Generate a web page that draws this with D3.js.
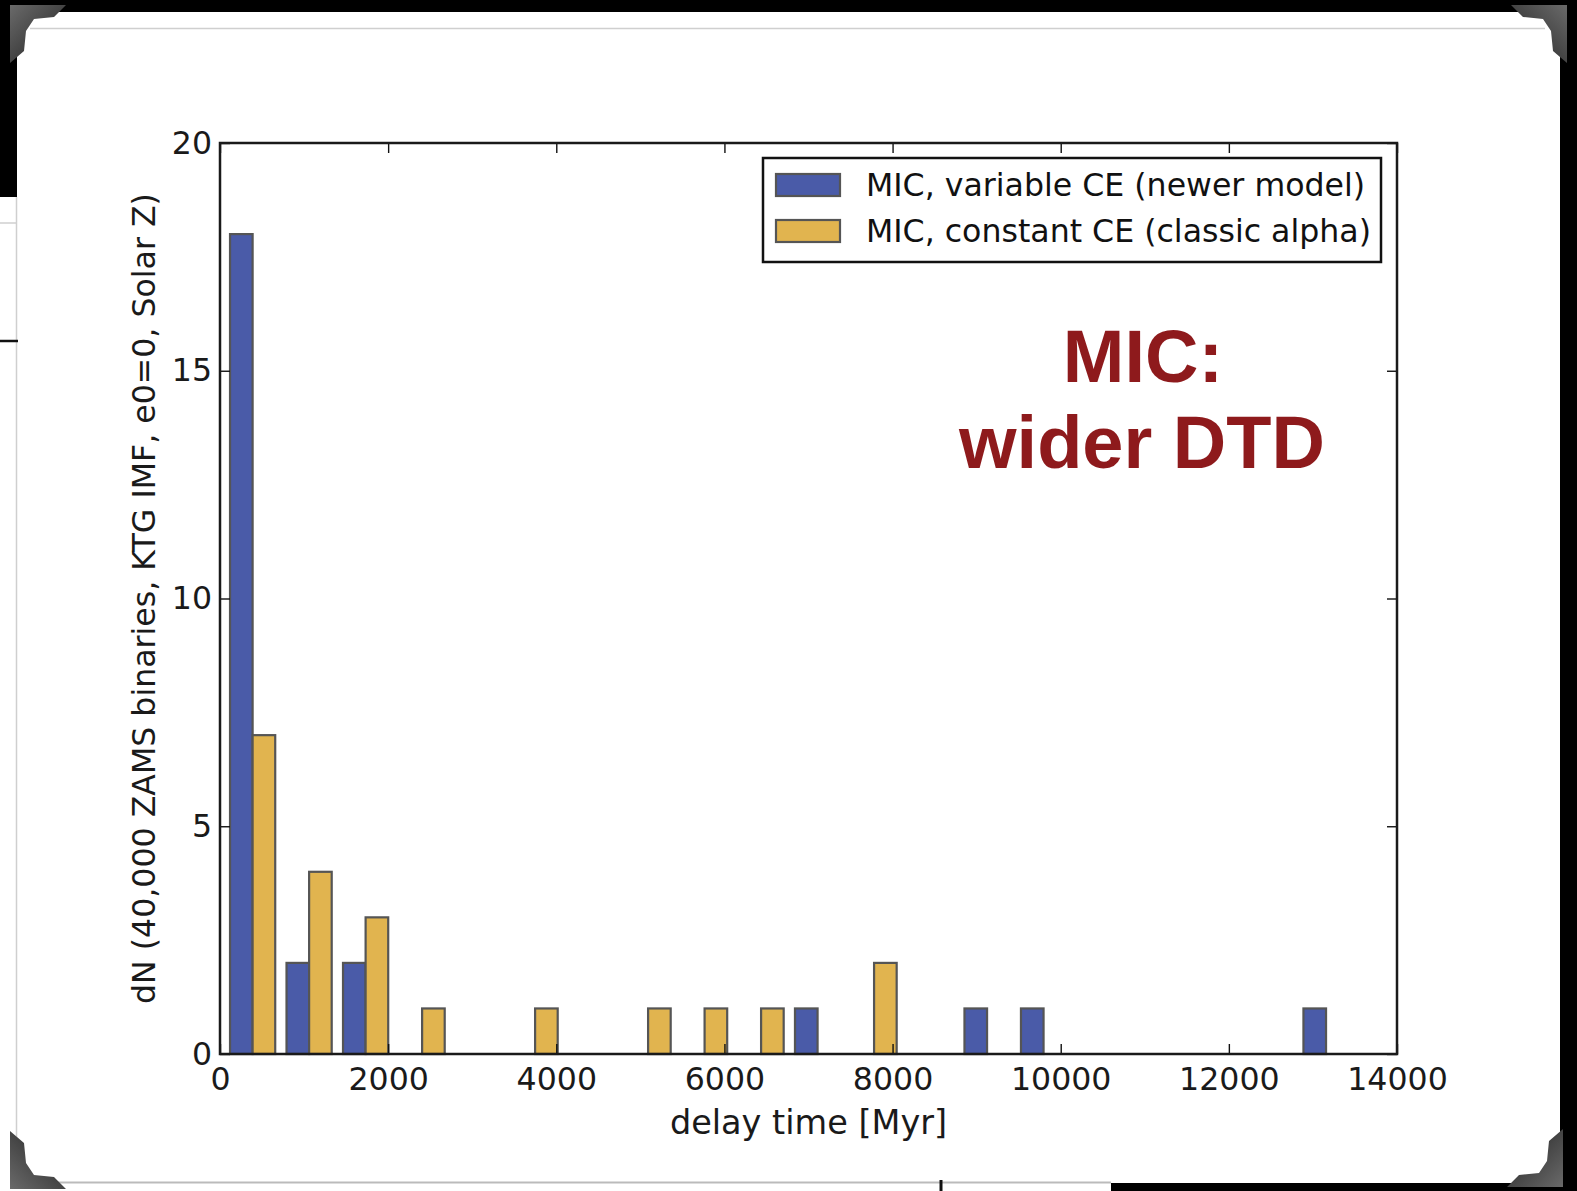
<!DOCTYPE html>
<html>
<head>
<meta charset="utf-8">
<script src="https://cdn.jsdelivr.net/npm/d3@7"></script>
<style>
  body { margin: 0; background: #000; }
  svg { display: block; }
  .tick-label { font-family: 'DejaVu Sans', sans-serif; font-size: 31.6px; fill: #1a1a1a; }
</style>
</head>
<body>
<div id="chart"></div>
<script>
// histogram bin edges (Myr), 20 bins
var binEdges = [52, 724, 1396, 2068, 2740, 3412, 4084, 4756, 5428, 6100, 6772,
  7444, 8116, 8788, 9460, 10132, 10804, 11476, 12148, 12820, 13492];

// counts per bin
var variableCE = [18, 2, 2, 0, 0, 0, 0, 0, 0, 0, 1, 0, 0, 1, 1, 0, 0, 0, 0, 1];
var constantCE = [7, 4, 3, 1, 0, 1, 0, 1, 1, 1, 0, 2, 0, 0, 0, 0, 0, 0, 0, 0];

var seriesNames = ['MIC, variable CE (newer model)', 'MIC, constant CE (classic alpha)'];
var xTicks = [0, 2000, 4000, 6000, 8000, 10000, 12000, 14000];
var yTicks = [0, 5, 10, 15, 20];

var colors = ['#4a5ba8', '#e1b44f'];

var W = 1577, H = 1191;
var plot = { left: 220, right: 1397, top: 143, bottom: 1054 };

var svg = d3.select('#chart').append('svg')
  .attr('width', W)
  .attr('height', H);

// ---- the photo-frame look around the slide ----
svg.append('rect').attr('width', W).attr('height', H).attr('fill', '#000');
svg.append('rect').attr('x', 17).attr('y', 12).attr('width', 1543).attr('height', 1171).attr('fill', '#fff');
svg.append('rect').attr('x', 0).attr('y', 197).attr('width', 17).attr('height', 994).attr('fill', '#fff');
svg.append('rect').attr('x', 17).attr('y', 1183).attr('width', 1094).attr('height', 8).attr('fill', '#fff');

var faint = '#cfcfcf';
svg.append('line').attr('x1', 30).attr('x2', 1545).attr('y1', 28.5).attr('y2', 28.5).attr('stroke', faint).attr('stroke-width', 1.5);
svg.append('line').attr('x1', 16.5).attr('x2', 16.5).attr('y1', 197).attr('y2', 1183).attr('stroke', faint).attr('stroke-width', 1.5);
svg.append('line').attr('x1', 0).attr('x2', 17).attr('y1', 223).attr('y2', 223).attr('stroke', faint).attr('stroke-width', 1.5);
svg.append('line').attr('x1', 17).attr('x2', 1111).attr('y1', 1182.5).attr('y2', 1182.5).attr('stroke', '#bbb').attr('stroke-width', 2);
svg.append('line').attr('x1', 0).attr('x2', 18).attr('y1', 341).attr('y2', 341).attr('stroke', '#111').attr('stroke-width', 2.5);
svg.append('line').attr('x1', 941).attr('x2', 941).attr('y1', 1180).attr('y2', 1191).attr('stroke', '#111').attr('stroke-width', 3);

// corner brackets
var grad = svg.append('defs').append('linearGradient').attr('id', 'corner')
  .attr('x1', 0).attr('y1', 0).attr('x2', 1).attr('y2', 1);
grad.append('stop').attr('offset', '0%').attr('stop-color', '#6a6a6a');
grad.append('stop').attr('offset', '100%').attr('stop-color', '#1e1e1e');

var bracket = [[0, 0], [56, 0], [44, 12], [24, 14], [16, 26], [14, 46], [0, 58]];
var corners = [
  { x: 10, y: 5, sx: 1, sy: 1 },
  { x: 1567, y: 5, sx: -1, sy: 1 },
  { x: 10, y: 1189, sx: 1, sy: -1 },
  { x: 1563, y: 1187, sx: -1, sy: -1 }
];
corners.forEach(function (c) {
  svg.append('polygon')
    .attr('points', bracket.map(function (p) { return p.join(','); }).join(' '))
    .attr('transform', 'translate(' + c.x + ',' + c.y + ') scale(' + c.sx + ',' + c.sy + ')')
    .attr('fill', 'url(#corner)');
});

// ---- scales ----
var x = d3.scaleLinear().domain([0, 14000]).range([plot.left, plot.right]);
var y = d3.scaleLinear().domain([0, 20]).range([plot.bottom, plot.top]);

// ---- bars (matplotlib side-by-side histogram) ----
var bins = d3.range(binEdges.length - 1).map(function (i) {
  return { x0: binEdges[i], x1: binEdges[i + 1], a: variableCE[i], b: constantCE[i] };
});

[variableCE, constantCE].forEach(function (counts, s) {
  svg.append('g').selectAll('rect')
    .data(bins.filter(function (d, i) { return counts[i] > 0; }))
    .enter().append('rect')
    .attr('x', function (d) { return x(d.x0 + (0.1 + 0.4 * s) * (d.x1 - d.x0)); })
    .attr('width', function (d) { return x(d.x0 + 0.4 * (d.x1 - d.x0)) - x(d.x0); })
    .attr('y', function (d) { return y(s === 0 ? d.a : d.b); })
    .attr('height', function (d) { return y(0) - y(s === 0 ? d.a : d.b); })
    .attr('fill', colors[s])
    .attr('stroke', '#555')
    .attr('stroke-width', 2.2);
});

// ---- axes frame and ticks (classic inward ticks on all sides) ----
var tickLen = 10;
var axisBottom = d3.axisBottom(x).tickValues(xTicks).tickSize(-tickLen).tickPadding(14).tickFormat(d3.format('d'));
var axisTop = d3.axisTop(x).tickValues(xTicks).tickSize(-tickLen).tickFormat('');
var axisLeft = d3.axisLeft(y).tickValues(yTicks).tickSize(-tickLen).tickPadding(8).tickFormat(d3.format('d'));
var axisRight = d3.axisRight(y).tickValues(yTicks).tickSize(-tickLen).tickFormat('');

function styleAxis(g) {
  g.select('.domain').remove();
  g.selectAll('.tick line').attr('stroke', '#111').attr('stroke-width', 1.4);
  g.selectAll('.tick text').attr('class', 'tick-label').attr('fill', '#1a1a1a');
  g.attr('font-family', null).attr('font-size', null);
}

svg.append('g').attr('transform', 'translate(0,' + plot.bottom + ')').call(axisBottom).call(styleAxis);
svg.append('g').attr('transform', 'translate(0,' + plot.top + ')').call(axisTop).call(styleAxis);
svg.append('g').attr('transform', 'translate(' + plot.left + ',0)').call(axisLeft).call(styleAxis);
svg.append('g').attr('transform', 'translate(' + plot.right + ',0)').call(axisRight).call(styleAxis);

svg.append('rect')
  .attr('x', plot.left).attr('y', plot.top)
  .attr('width', plot.right - plot.left).attr('height', plot.bottom - plot.top)
  .attr('fill', 'none').attr('stroke', '#1a1a1a').attr('stroke-width', 2.5);

// ---- axis labels ----
svg.append('text')
  .attr('x', (plot.left + plot.right) / 2)
  .attr('y', 1134)
  .attr('text-anchor', 'middle')
  .style('font-family', 'DejaVu Sans, sans-serif')
  .style('font-size', '33.5px')
  .style('fill', '#1a1a1a')
  .text('delay time [Myr]');

svg.append('text')
  .attr('transform', 'translate(155,' + (plot.top + plot.bottom) / 2 + ') rotate(-90)')
  .attr('text-anchor', 'middle')
  .style('font-family', 'DejaVu Sans, sans-serif')
  .style('font-size', '31.6px')
  .style('fill', '#1a1a1a')
  .text('dN (40,000 ZAMS binaries, KTG IMF, e0=0, Solar Z)');

// ---- legend ----
var legend = svg.append('g');
legend.append('rect')
  .attr('x', 763).attr('y', 158).attr('width', 618).attr('height', 104)
  .attr('fill', '#fff').attr('stroke', '#111').attr('stroke-width', 2.5);

seriesNames.forEach(function (name, i) {
  legend.append('rect')
    .attr('x', 776).attr('y', 174 + i * 46).attr('width', 64).attr('height', 22)
    .attr('fill', colors[i]).attr('stroke', '#555').attr('stroke-width', 2.2);
  legend.append('text')
    .attr('x', 866).attr('y', 196 + i * 46)
    .style('font-family', 'DejaVu Sans, sans-serif')
    .style('font-size', '31.6px')
    .style('fill', '#111')
    .text(name);
});

// ---- annotation ----
var note = svg.append('text')
  .attr('text-anchor', 'middle')
  .style('font-family', 'Liberation Sans, Arial, sans-serif')
  .style('font-weight', 'bold')
  .style('font-size', '74px')
  .style('fill', '#8e1a1c');
note.append('tspan').attr('x', 1143).attr('y', 382).text('MIC:');
note.append('tspan').attr('x', 1142).attr('y', 468).text('wider DTD');
</script>
</body>
</html>
